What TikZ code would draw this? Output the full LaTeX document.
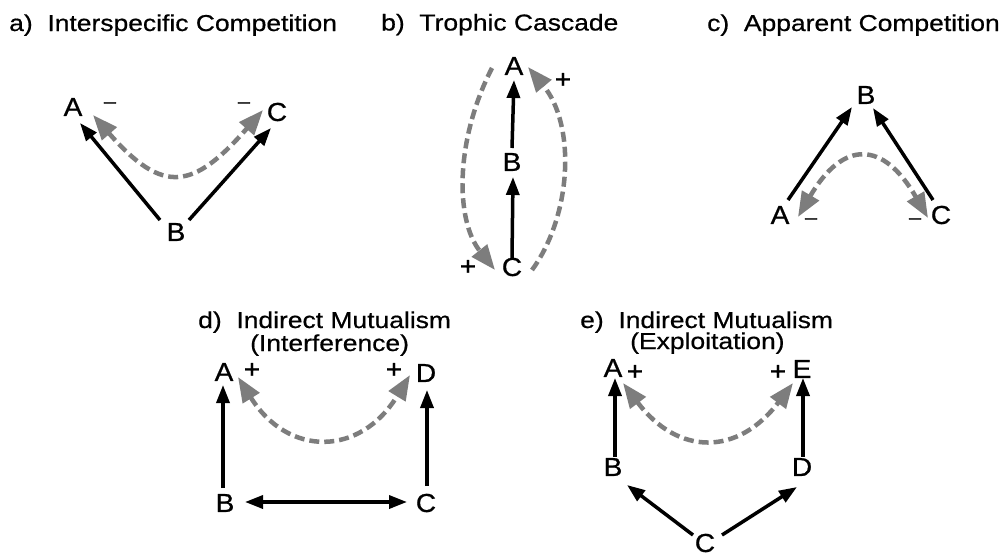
\documentclass[tikz,border=0pt]{standalone}
\usepackage{fontspec}
\setmainfont{Liberation Sans}
\newfontfamily\ttlfont[FakeStretch=1.15,FakeBold=0.6]{Liberation Sans}
\newfontfamily\lblfont[FakeStretch=1.08,FakeBold=0.8]{Liberation Sans}
\usetikzlibrary{arrows.meta}
\definecolor{grayc}{RGB}{125,125,125}
\begin{document}
\begin{tikzpicture}[x=1pt,y=-1pt,
  title/.style={anchor=base west,inner sep=0pt,font=\ttlfont\fontsize{23}{27}\selectfont},
  sp/.style={inner sep=0pt,font=\lblfont\fontsize{26}{30}\selectfont},
  sgn/.style={anchor=base,inner sep=0pt,font=\lblfont\fontsize{26}{30}\selectfont},
  sgnm/.style={anchor=base,inner sep=0pt,font=\lblfont\fontsize{20}{24}\selectfont},
  blk/.style={draw=black,line width=3.5pt,-{Triangle[length=18pt,width=13pt]}},
  blkb/.style={draw=black,line width=3.5pt,{Triangle[length=18pt,width=13pt]}-{Triangle[length=18pt,width=13pt]}},
  gry/.style={draw=grayc,line width=4.5pt,dash pattern=on 10pt off 5pt,-{Triangle[length=25pt,width=19pt]}},
  gryb/.style={draw=grayc,line width=4.5pt,dash pattern=on 10pt off 5pt,{Triangle[length=25pt,width=19pt]}-{Triangle[length=25pt,width=19pt]}}
]
\path[use as bounding box,fill=white] (0,0) rectangle (1004,557);

% titles
\node[title] (ta) at (9,31) {a)\ \ Interspecific Competition};
\node[title] (tb) at (381,30.5) {b)\ \ Trophic Cascade};
\node[title] (tc) at (707,31) {c)\ \ Apparent Competition};
\node[title] (td1) at (198,328) {d)\ \ Indirect Mutualism};
\node[title] (td2) at (250,351) {(Interference)};
\node[title] (te1) at (580,328) {e)\ \ Indirect Mutualism};
\node[title] (te2) at (630,349) {(Exploitation)};

% panel a
\node[sp] (aA) at (73,107) {A};
\node[sp] (aB) at (176,232) {B};
\node[sp] (aC) at (277,112) {C};
\node[sgnm] (aSA) at (110,108) {–};
\node[sgnm] (aSC) at (244,108) {–};
\draw[blk] ([shift={(-16,-12)}]aB.center) -- ([shift={(7,16)}]aA.center);
\draw[blk] ([shift={(13,-12)}]aB.center) -- ([shift={(-6,16)}]aC.center);
\draw[gryb] ([shift={(20,8)}]aA.center) .. controls +(70,80) and +(-70,80) .. ([shift={(-14,-2)}]aC.center);

% panel b
\node[sp] (bA) at (514,66) {A};
\node[sp] (bB) at (512,162) {B};
\node[sp] (bC) at (512,267) {C};
\node[sgn] (bSA) at (563,88) {+};
\node[sgn] (bSC) at (468,275) {+};
\draw[blk] ([shift={(0,-9)}]bC.center) -- ([shift={(1,15)}]bB.center);
\draw[blk] ([shift={(0,-14)}]bB.center) -- ([shift={(0,14)}]bA.center);
\draw[gry] ([shift={(-22,2)}]bA.center) .. controls +(-37,72) and +(-40,-50) .. ([shift={(-17,3)}]bC.center);
\draw[gry] ([shift={(20,3)}]bC.center) .. controls +(40,-55) and +(48,58) .. ([shift={(14,1)}]bA.center);

% panel c
\node[sp] (cA) at (780,215) {A};
\node[sp] (cB) at (866,95) {B};
\node[sp] (cC) at (941,215) {C};
\node[sgnm] (cSA) at (811,224) {–};
\node[sgnm] (cSC) at (915,224) {–};
\draw[blk] ([shift={(8,-15)}]cA.center) -- ([shift={(-14,12)}]cB.center);
\draw[blk] ([shift={(-8,-15)}]cC.center) -- ([shift={(7,13)}]cB.center);
\draw[gryb] ([shift={(18,2)}]cA.center) .. controls +(45,-77) and +(-45,-78) .. ([shift={(-13,3)}]cC.center);

% panel d
\node[sp] (dA) at (224,372) {A};
\node[sp] (dD) at (426,373) {D};
\node[sp] (dB) at (225,503) {B};
\node[sp] (dC) at (426,503) {C};
\node[sgn] (dSA) at (252,378) {+};
\node[sgn] (dSD) at (394,378) {+};
\draw[blk] ([shift={(-2,-15)}]dB.center) -- ([shift={(-1,13)}]dA.center);
\draw[blk] ([shift={(1,-17)}]dC.center) -- ([shift={(1,17)}]dD.center);
\draw[blkb] ([shift={(20,-1)}]dB.center) -- ([shift={(-19,-1)}]dC.center);
\draw[gryb] ([shift={(14,5)}]dA.center) .. controls +(50,80) and +(-50,82) .. ([shift={(-16,2)}]dD.center);

% panel e
\node[sp] (eA) at (613,368) {A};
\node[sp] (eE) at (802,369) {E};
\node[sp] (eB) at (613,467) {B};
\node[sp] (eD) at (802,467) {D};
\node[sp] (eC) at (705,543) {C};
\node[sgn] (eSA) at (635,380) {+};
\node[sgn] (eSE) at (778,380) {+};
\draw[blk] ([shift={(2,-10)}]eB.center) -- ([shift={(2,10)}]eA.center);
\draw[blk] ([shift={(1,-10)}]eD.center) -- ([shift={(1,9)}]eE.center);
\draw[blk] ([shift={(-12,-8)}]eC.center) -- ([shift={(14,18)}]eB.center);
\draw[blk] ([shift={(17,-8)}]eC.center) -- ([shift={(-5,20)}]eD.center);
\draw[gryb] ([shift={(10,15)}]eA.center) .. controls +(55,73) and +(-55,73) .. ([shift={(-9,14)}]eE.center);
\end{tikzpicture}
\end{document}
